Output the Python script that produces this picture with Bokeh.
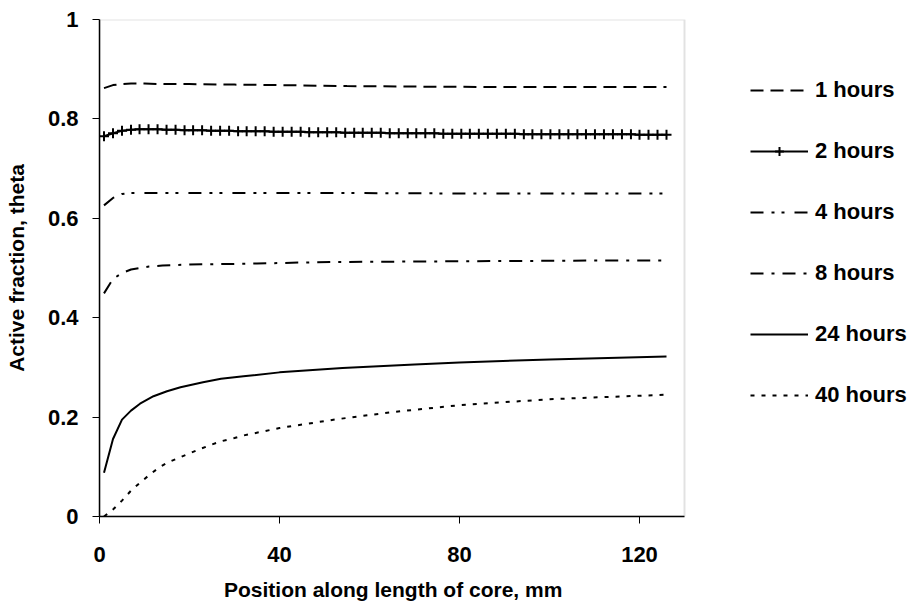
from bokeh.plotting import figure
from bokeh.models import (Legend, LegendItem, FixedTicker, NumeralTickFormatter,
                          Range1d, BoxAnnotation, Title)
from bokeh.embed import file_html
from bokeh.resources import INLINE

# ---------------- data ----------------
x_1h = [1, 3, 5, 7, 10, 15, 20, 30, 40, 55, 70, 90, 110, 126]
y_1h = [0.862, 0.868, 0.870, 0.871, 0.871, 0.870, 0.870, 0.869, 0.868, 0.866, 0.865, 0.864, 0.864, 0.864]

x_2h = [1.0, 3.0, 5.0, 7.0, 8.9, 10.9, 12.9, 14.9,
        16.9, 18.9, 20.8, 22.8, 24.8, 26.8, 28.8, 30.8,
        32.7, 34.7, 36.7, 38.7, 40.7, 42.7, 44.7, 46.6,
        48.6, 50.6, 52.6, 54.6, 56.6, 58.5, 60.5, 62.5,
        64.5, 66.5, 68.5, 70.4, 72.4, 74.4, 76.4, 78.4,
        80.4, 82.3, 84.3, 86.3, 88.3, 90.3, 92.3, 94.3,
        96.2, 98.2, 100.2, 102.2, 104.2, 106.2, 108.1, 110.1,
        112.1, 114.1, 116.1, 118.1, 120.0, 122.0, 124.0, 126.0]
y_2h = [0.765, 0.771, 0.776, 0.778, 0.779, 0.779, 0.779, 0.778,
        0.778, 0.777, 0.777, 0.777, 0.776, 0.776, 0.776, 0.775,
        0.775, 0.775, 0.775, 0.774, 0.774, 0.774, 0.774, 0.773,
        0.773, 0.773, 0.773, 0.772, 0.772, 0.772, 0.772, 0.772,
        0.771, 0.771, 0.771, 0.771, 0.771, 0.771, 0.770, 0.770,
        0.770, 0.770, 0.770, 0.770, 0.770, 0.770, 0.770, 0.769,
        0.769, 0.769, 0.769, 0.769, 0.769, 0.769, 0.769, 0.769,
        0.769, 0.769, 0.769, 0.769, 0.768, 0.768, 0.768, 0.768]

x_4h = [1, 3, 5, 7, 9, 12, 16, 20, 30, 50, 80, 126]
y_4h = [0.626, 0.641, 0.649, 0.651, 0.651, 0.651, 0.651, 0.651, 0.651, 0.651, 0.650, 0.650]

x_8h = [1, 3, 5, 7, 9, 11, 14, 20, 28, 35, 45, 52, 70, 90, 110, 126]
y_8h = [0.449, 0.478, 0.490, 0.497, 0.500, 0.503, 0.505, 0.507, 0.508, 0.509, 0.511, 0.512, 0.513, 0.514, 0.515, 0.515]

x_24h = [1, 3, 5, 7, 9, 12, 15, 18, 23, 27, 32, 40, 54, 70, 80, 100, 126]
y_24h = [0.088, 0.156, 0.195, 0.213, 0.227, 0.242, 0.252, 0.260, 0.270, 0.277, 0.282, 0.290, 0.299, 0.306, 0.310, 0.316, 0.322]

x_40h = [1, 3, 5, 7, 9, 11, 13, 15, 17.6, 20, 22.4, 25, 27.3, 30, 32, 40, 45, 53, 65, 80, 100, 126]
y_40h = [0.0, 0.014, 0.032, 0.052, 0.068, 0.083, 0.097, 0.108, 0.118, 0.127, 0.136, 0.145, 0.152, 0.158, 0.163, 0.178, 0.185, 0.196, 0.210, 0.224, 0.236, 0.245]

series_labels = ["1 hours", "2 hours", "4 hours", "8 hours", "24 hours", "40 hours"]
x_ticks = [0, 40, 80, 120]
y_ticks = [0, 0.2, 0.4, 0.6, 0.8, 1]
x_min, x_max = 0, 130     # axis extent of the plot area
y_min, y_max = 0, 1
x_title = "Position along length of core, mm"
y_title = "Active fraction, theta"

# ---------------- figure ----------------
W, H = 918, 611
FONT = "Liberation Sans"
FL, FT, FH = 99, 19, 498        # frame left / top / height
PLOT_W = 585                    # width of the bordered plot area
FW = W - FL - 2                 # frame extends under the legend
x_end = x_min + (x_max - x_min) * FW / PLOT_W

p = figure(width=W, height=H, output_backend="svg", toolbar_location=None,
           x_range=Range1d(x_min, x_end), y_range=Range1d(y_min, y_max),
           min_border_left=FL, min_border_right=W - FL - FW, min_border_top=FT,
           min_border_bottom=H - FT - FH)
p.background_fill_color = "white"
p.border_fill_color = "white"
p.outline_line_color = None
p.grid.visible = False

# grey plot-area border (top and right visible; left/bottom under the axes)
p.add_layout(BoxAnnotation(left=x_min, right=x_max, bottom=y_min, top=y_max,
                           fill_alpha=0, line_color="#a0a0a0", line_width=2,
                           level="underlay"))

for ax in (p.xaxis[0], p.yaxis[0]):
    ax.axis_line_color = "black"
    ax.axis_line_width = 1.5
    ax.major_tick_line_color = "black"
    ax.major_tick_line_width = 1
    ax.major_tick_in = 0
    ax.major_tick_out = 7
    ax.minor_tick_line_color = None
    ax.major_label_text_font = FONT
    ax.major_label_text_font_style = "bold"
    ax.major_label_text_font_size = "22px"
    ax.major_label_text_color = "black"
    ax.axis_label_text_font = FONT
    ax.axis_label_text_font_style = "bold"
    ax.axis_label_text_font_size = "21px"
    ax.axis_label_text_color = "black"

p.xaxis.bounds = (x_min, x_max)
p.xaxis.ticker = FixedTicker(ticks=x_ticks)
p.yaxis.ticker = FixedTicker(ticks=y_ticks)
p.xaxis.formatter = NumeralTickFormatter(format="0.[0]")
p.yaxis.formatter = NumeralTickFormatter(format="0.[0]")
p.xaxis.major_label_standoff = 23
p.yaxis.major_label_standoff = 14
p.yaxis.axis_label = y_title
p.yaxis.axis_label_standoff = 17

# x-axis title centred under the bordered plot area (not the whole frame)
x_title_w = 338
xt = Title(text=x_title, align="left", offset=(PLOT_W - x_title_w) / 2 + 1,
           text_font=FONT, text_font_style="bold", text_font_size="21px",
           text_color="black", standoff=22)
p.add_layout(xt, "below")

LW = 2
r1 = p.line(x_1h, y_1h, line_color="black", line_width=LW, line_dash="13 7")
r2 = p.line(x_2h, y_2h, line_color="black", line_width=LW)
s2 = p.scatter(x_2h, y_2h, marker="cross", size=10, line_color="black", line_width=2)
r4 = p.line(x_4h, y_4h, line_color="black", line_width=LW, line_dash="13 8 3 7 3 10")
r8 = p.line(x_8h, y_8h, line_color="black", line_width=LW, line_dash="13 8 3 8")
r24 = p.line(x_24h, y_24h, line_color="black", line_width=LW)
r40 = p.line(x_40h, y_40h, line_color="black", line_width=LW, line_dash="4 7")

items = [
    LegendItem(label=series_labels[0], renderers=[r1]),
    LegendItem(label=series_labels[1], renderers=[r2, s2]),
    LegendItem(label=series_labels[2], renderers=[r4]),
    LegendItem(label=series_labels[3], renderers=[r8]),
    LegendItem(label=series_labels[4], renderers=[r24]),
    LegendItem(label=series_labels[5], renderers=[r40]),
]
# legend top at y=102, 6 rows of 22 px + 5 gaps of 35 px -> bottom at 409
leg_bottom = 102 + 6 * 22 + 5 * 35
legend = Legend(items=items, location=(750 - FL, FT + FH - leg_bottom),
                glyph_width=58, glyph_height=22, label_height=22,
                spacing=35, label_standoff=7, padding=0, margin=0,
                border_line_color=None, background_fill_alpha=0,
                label_text_font=FONT, label_text_font_style="bold",
                label_text_font_size="22px", label_text_color="black")
p.add_layout(legend)

open("out.html", "w").write(file_html(p, INLINE))
